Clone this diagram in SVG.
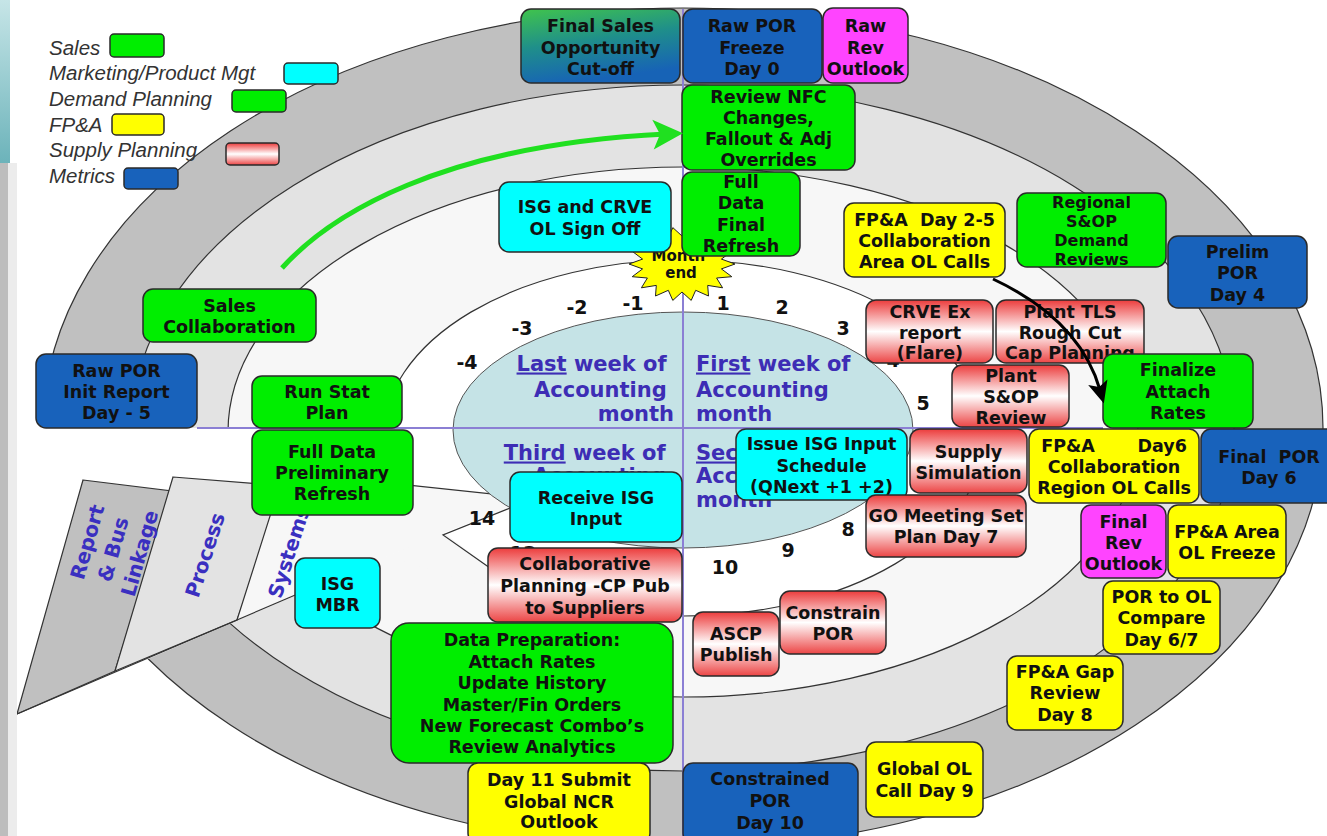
<svg xmlns="http://www.w3.org/2000/svg" width="1327" height="836" viewBox="0 0 1327 836">
<defs>
  <linearGradient id="pinkGrad" x1="0" y1="0" x2="0" y2="1">
    <stop offset="0" stop-color="#ec3c3c"/>
    <stop offset="0.5" stop-color="#ffffff"/>
    <stop offset="1" stop-color="#ec4545"/>
  </linearGradient>
  <linearGradient id="cutoffGrad" x1="0" y1="0" x2="0.3" y2="1">
    <stop offset="0" stop-color="#40c44c"/>
    <stop offset="0.5" stop-color="#1f8f8a"/>
    <stop offset="1" stop-color="#1763b6"/>
  </linearGradient>
  <linearGradient id="tealPanel" x1="0" y1="0" x2="0" y2="1">
    <stop offset="0" stop-color="#c6e5e7"/>
    <stop offset="1" stop-color="#6cb3ba"/>
  </linearGradient>
  <marker id="headGreen" markerUnits="userSpaceOnUse" markerWidth="40" markerHeight="40" viewBox="-20 -20 40 40" refX="0" refY="0" orient="auto">
    <path d="M17,0 L-13,-15 L-6,0 L-13,15 Z" fill="#20e020"/>
  </marker>
  <marker id="headBlack" markerUnits="userSpaceOnUse" markerWidth="40" markerHeight="40" viewBox="-20 -20 40 40" refX="0" refY="0" orient="auto">
    <path d="M14,0 L-8,-10 L-3,0 L-8,10 Z" fill="#000"/>
  </marker>
</defs>
<style>
  .edge{stroke:#333;stroke-width:1.2}
  .box{stroke:#2a2a2a;stroke-width:1.5}
  .sales{fill:#00ee00}
  .mkt{fill:#00ffff}
  .fpa{fill:#ffff00}
  .supply{fill:url(#pinkGrad)}
  .metric{fill:#1862bb}
  .rev{fill:#ff44ff}
  .lbl{font-family:"DejaVu Sans",Verdana,sans-serif;font-weight:bold;font-size:17.5px;fill:#111;text-anchor:middle}
  .small{font-size:16px}
  .week{font-family:"DejaVu Sans",Verdana,sans-serif;font-weight:bold;font-size:21px;fill:#3d2db5}
  .blade{font-family:"DejaVu Sans",Verdana,sans-serif;font-weight:bold;font-size:20px;fill:#3a2fc0;text-anchor:middle}
  .day{font-family:"DejaVu Sans",Verdana,sans-serif;font-weight:bold;font-size:19px;fill:#111;text-anchor:middle}
  .legend{font-family:"Liberation Sans",Arial,sans-serif;font-style:italic;font-size:20.5px;fill:#333}
  .axis{stroke:#8b7fd4;stroke-width:2;fill:none}
</style>

<!-- page background -->
<rect x="0" y="0" width="1327" height="836" fill="#ffffff"/>

<!-- concentric planning rings -->
<g id="rings">
  <ellipse cx="683" cy="428" rx="640" ry="420" fill="#c0c0c0" class="edge"/>
  <ellipse cx="683" cy="428" rx="551" ry="343" fill="#e3e3e3" class="edge"/>
  <ellipse cx="683" cy="432" rx="455" ry="265" fill="#f7f7f7" class="edge"/>
  <ellipse cx="683" cy="438" rx="300" ry="178" fill="#ffffff" class="edge"/>
  <!-- opened sector at lower left -->
  <polygon points="-5,428 456,428 462,470 443,532 -5,725" fill="#ffffff"/>
</g>

<!-- peeled ring ends: Report & Bus Linkage / Process / Systems -->
<g id="blades">
  <polygon points="83,480 172,491 115,671 17,714" fill="#c0c0c0" class="edge"/>
  <polygon points="173,477 286,486 237,620 115,671" fill="#e3e3e3" class="edge"/>
  <polygon points="284,472 512,496 510,508 443,533 237,620" fill="#f7f7f7"/>
  <polyline points="237,620 284,472 512,496" fill="none" class="edge"/>
  <line x1="17" y1="714" x2="314" y2="587" class="edge"/>
  <polygon points="416,543 443,532 490,568 494,590 400,560" fill="#f7f7f7"/>
  <polyline points="510,508 443,535 490,568" fill="none" class="edge"/>
  <text class="blade" transform="translate(114,546) rotate(-74)">
    <tspan x="0" y="-19.7">Report</tspan>
    <tspan x="0" y="7">&amp; Bus</tspan>
    <tspan x="0" y="33.7">Linkage</tspan>
  </text>
  <text class="blade" transform="translate(205,555) rotate(-72)"><tspan x="0" y="7">Process</tspan></text>
  <text class="blade" transform="translate(289,552) rotate(-72)"><tspan x="0" y="7">Systems</tspan></text>
</g>

<!-- left edge strips -->
<rect x="0" y="0" width="10" height="163" fill="url(#tealPanel)"/>
<rect x="0" y="163" width="8" height="673" fill="#bdbdbd"/>
<rect x="8" y="163" width="9" height="673" fill="#ececec"/>

<!-- accounting month core -->
<g id="core">
  <ellipse cx="683" cy="430" rx="230" ry="118" fill="#c5e3e6" stroke="#555" stroke-width="1"/>
  <line x1="683" y1="9" x2="683" y2="836" class="axis"/>
  <line x1="197" y1="428" x2="1103" y2="428" class="axis"/>
  <text class="week" text-anchor="end">
    <tspan x="674" y="370.5"><tspan text-decoration="underline">Last</tspan> week of</tspan>
    <tspan x="674" y="396.5">Accounting</tspan>
    <tspan x="674" y="420.5">month</tspan>
  </text>
  <text class="week">
    <tspan x="696" y="370.5"><tspan text-decoration="underline">First</tspan> week of</tspan>
    <tspan x="696" y="396.5">Accounting</tspan>
    <tspan x="696" y="420.5">month</tspan>
  </text>
  <text class="week" text-anchor="end">
    <tspan x="673" y="459.5"><tspan text-decoration="underline">Third</tspan> week of</tspan>
    <tspan x="673" y="482.5">Accounting</tspan>
    <tspan x="673" y="506.5">month</tspan>
  </text>
  <text class="week">
    <tspan x="696" y="459.5"><tspan text-decoration="underline">Second</tspan> week of</tspan>
    <tspan x="696" y="482.5">Accounting</tspan>
    <tspan x="696" y="506.5">month</tspan>
  </text>
</g>

<!-- working day numbers -->
<g id="days">
  <text class="day" x="467" y="369">-4</text>
  <text class="day" x="522" y="335">-3</text>
  <text class="day" x="577" y="314">-2</text>
  <text class="day" x="633" y="310">-1</text>
  <text class="day" x="723" y="310">1</text>
  <text class="day" x="782" y="314">2</text>
  <text class="day" x="843" y="335">3</text>
  <text class="day" x="893" y="367">4</text>
  <text class="day" x="923" y="410">5</text>
  <text class="day" x="848" y="536">8</text>
  <text class="day" x="788" y="557">9</text>
  <text class="day" x="725" y="574">10</text>
  <text class="day" x="523" y="560">13</text>
  <text class="day" x="482" y="525">14</text>
</g>

<!-- month end burst -->
<g id="month-end">
  <polygon fill="#ffff00" stroke="#222" stroke-width="1" points="735,264 721.4,268.9 731.8,276.7 716.6,278 722.6,287.8 707.7,285.4 708.5,296 695.7,290.3 691.2,300.4 682,292 672.8,300.4 668.3,290.3 655.5,296 656.3,285.4 641.4,287.8 647.4,278 632.2,276.7 642.6,268.9 629,264 642.6,259.1 632.2,251.3 647.4,250 641.4,240.2 656.3,242.6 655.5,232 668.3,237.7 672.8,227.6 682,236 691.2,227.6 695.7,237.7 708.5,232 707.7,242.6 722.6,240.2 716.6,250 731.8,251.3 721.4,259.1"/>
  <text class="lbl" style="font-size:15px">
    <tspan x="681" y="261">Month</tspan>
    <tspan x="681" y="278">end</tspan>
  </text>
</g>

<!-- colour key -->
<g id="legend">
  <text class="legend" x="49" y="55">Sales</text>
  <rect x="110" y="34" width="54" height="23" rx="4" class="box sales"/>
  <text class="legend" x="49" y="80">Marketing/Product Mgt</text>
  <rect x="284" y="63" width="54" height="21" rx="4" class="box mkt"/>
  <text class="legend" x="49" y="106">Demand Planning</text>
  <rect x="232" y="90" width="54" height="22" rx="4" class="box sales"/>
  <text class="legend" x="49" y="132">FP&amp;A</text>
  <rect x="112" y="114" width="52" height="21" rx="4" class="box fpa"/>
  <text class="legend" x="49" y="157">Supply Planning</text>
  <rect x="226" y="143" width="53" height="22" rx="4" class="box supply"/>
  <text class="legend" x="49" y="183">Metrics</text>
  <rect x="124" y="168" width="54" height="21" rx="4" class="box metric"/>
</g>

<!-- process steps -->
<g id="final-sales-cutoff"><rect x="521" y="9" width="159" height="74" rx="10" class="box" fill="url(#cutoffGrad)"/>
  <text class="lbl"><tspan x="600.5" y="32">Final Sales</tspan><tspan x="600.5" y="54">Opportunity</tspan><tspan x="600.5" y="75">Cut-off</tspan></text></g>
<g id="raw-por-freeze"><rect x="683" y="9" width="139" height="74" rx="10" class="box metric"/>
  <text class="lbl"><tspan x="752" y="32">Raw POR</tspan><tspan x="752" y="54">Freeze</tspan><tspan x="752" y="75">Day 0</tspan></text></g>
<g id="raw-rev-outlook"><rect x="823" y="8" width="85" height="75" rx="10" class="box rev"/>
  <text class="lbl"><tspan x="865.5" y="32">Raw</tspan><tspan x="865.5" y="54">Rev</tspan><tspan x="865.5" y="75">Outlook</tspan></text></g>
<g id="review-nfc"><rect x="682" y="85" width="173" height="85" rx="10" class="box sales"/>
  <text class="lbl"><tspan x="768.5" y="103">Review NFC</tspan><tspan x="768.5" y="124">Changes,</tspan><tspan x="768.5" y="145">Fallout &amp; Adj</tspan><tspan x="768.5" y="166">Overrides</tspan></text></g>
<g id="full-data-final"><rect x="682" y="172" width="118" height="84" rx="10" class="box sales"/>
  <text class="lbl"><tspan x="741" y="188">Full</tspan><tspan x="741" y="209">Data</tspan><tspan x="741" y="231">Final</tspan><tspan x="741" y="252">Refresh</tspan></text></g>
<g id="isg-crve-signoff"><rect x="499" y="182" width="172" height="70" rx="10" class="box mkt"/>
  <text class="lbl"><tspan x="585" y="213">ISG and CRVE</tspan><tspan x="585" y="235">OL Sign Off</tspan></text></g>
<g id="sales-collaboration"><rect x="143" y="289" width="173" height="53" rx="10" class="box sales"/>
  <text class="lbl"><tspan x="229.5" y="312">Sales</tspan><tspan x="229.5" y="333">Collaboration</tspan></text></g>
<g id="raw-por-init"><rect x="36" y="354" width="161" height="74" rx="10" class="box metric"/>
  <text class="lbl"><tspan x="116.5" y="377">Raw POR</tspan><tspan x="116.5" y="398">Init Report</tspan><tspan x="116.5" y="419">Day - 5</tspan></text></g>
<g id="run-stat-plan"><rect x="252" y="376" width="150" height="52" rx="10" class="box sales"/>
  <text class="lbl"><tspan x="327" y="398">Run Stat</tspan><tspan x="327" y="419">Plan</tspan></text></g>
<g id="full-data-prelim"><rect x="252" y="430" width="161" height="85" rx="10" class="box sales"/>
  <text class="lbl"><tspan x="332" y="458">Full Data</tspan><tspan x="332" y="479">Preliminary</tspan><tspan x="332" y="500">Refresh</tspan></text></g>
<g id="fpa-area-calls"><rect x="844" y="203" width="161" height="74" rx="10" class="box fpa"/>
  <text class="lbl"><tspan x="924.5" y="226">FP&amp;A&#160; Day 2-5</tspan><tspan x="924.5" y="247">Collaboration</tspan><tspan x="924.5" y="268">Area OL Calls</tspan></text></g>
<g id="regional-sop"><rect x="1017" y="193" width="149" height="74" rx="10" class="box sales"/>
  <text class="lbl small"><tspan x="1091.5" y="208">Regional</tspan><tspan x="1091.5" y="227">S&amp;OP</tspan><tspan x="1091.5" y="246">Demand</tspan><tspan x="1091.5" y="265">Reviews</tspan></text></g>
<g id="prelim-por"><rect x="1168" y="236" width="139" height="72" rx="10" class="box metric"/>
  <text class="lbl"><tspan x="1237.5" y="258">Prelim</tspan><tspan x="1237.5" y="279">POR</tspan><tspan x="1237.5" y="301">Day 4</tspan></text></g>
<g id="crve-ex-report"><rect x="866" y="300" width="127" height="63" rx="10" class="box supply"/>
  <text class="lbl"><tspan x="930" y="318">CRVE Ex</tspan><tspan x="930" y="339">report</tspan><tspan x="930" y="359">(Flare)</tspan></text></g>
<g id="plant-tls"><rect x="996" y="300" width="148" height="63" rx="10" class="box supply"/>
  <text class="lbl"><tspan x="1070" y="318">Plant TLS</tspan><tspan x="1070" y="339">Rough Cut</tspan><tspan x="1070" y="359">Cap Planning</tspan></text></g>
<g id="plant-sop"><rect x="952" y="365" width="117" height="62" rx="10" class="box supply"/>
  <text class="lbl"><tspan x="1011" y="382">Plant</tspan><tspan x="1011" y="403">S&amp;OP</tspan><tspan x="1011" y="424">Review</tspan></text></g>
<g id="finalize-attach"><rect x="1103" y="354" width="150" height="74" rx="10" class="box sales"/>
  <text class="lbl"><tspan x="1178" y="376">Finalize</tspan><tspan x="1178" y="398">Attach</tspan><tspan x="1178" y="419">Rates</tspan></text></g>
<g id="issue-isg-schedule"><rect x="736" y="429" width="171" height="71" rx="10" class="box mkt"/>
  <text class="lbl"><tspan x="821.5" y="450">Issue ISG Input</tspan><tspan x="821.5" y="472">Schedule</tspan><tspan x="821.5" y="493">(QNext +1 +2)</tspan></text></g>
<g id="supply-simulation"><rect x="910" y="429" width="117" height="64" rx="10" class="box supply"/>
  <text class="lbl"><tspan x="968.5" y="458">Supply</tspan><tspan x="968.5" y="479">Simulation</tspan></text></g>
<g id="fpa-region-calls"><rect x="1029" y="429" width="170" height="74" rx="10" class="box fpa"/>
  <text class="lbl"><tspan x="1114" y="452">FP&amp;A&#160;&#160;&#160;&#160;&#160;&#160; Day6</tspan><tspan x="1114" y="473">Collaboration</tspan><tspan x="1114" y="494">Region OL Calls</tspan></text></g>
<g id="final-por"><rect x="1201" y="429" width="140" height="74" rx="10" class="box metric"/>
  <text class="lbl"><tspan x="1269" y="463">Final&#160; POR</tspan><tspan x="1269" y="484">Day 6</tspan></text></g>
<g id="receive-isg"><rect x="510" y="472" width="172" height="70" rx="10" class="box mkt"/>
  <text class="lbl"><tspan x="596" y="504">Receive ISG</tspan><tspan x="596" y="525">Input</tspan></text></g>
<g id="go-meeting"><rect x="866" y="495" width="160" height="62" rx="10" class="box supply"/>
  <text class="lbl"><tspan x="946" y="522">GO Meeting Set</tspan><tspan x="946" y="543">Plan Day 7</tspan></text></g>
<g id="final-rev-outlook"><rect x="1081" y="505" width="85" height="73" rx="10" class="box rev"/>
  <text class="lbl"><tspan x="1123.5" y="528">Final</tspan><tspan x="1123.5" y="549">Rev</tspan><tspan x="1123.5" y="570">Outlook</tspan></text></g>
<g id="fpa-area-freeze"><rect x="1168" y="505" width="118" height="73" rx="10" class="box fpa"/>
  <text class="lbl"><tspan x="1227" y="538">FP&amp;A Area</tspan><tspan x="1227" y="559">OL Freeze</tspan></text></g>
<g id="collaborative-planning"><rect x="488" y="548" width="194" height="74" rx="10" class="box supply"/>
  <text class="lbl"><tspan x="585" y="570">Collaborative</tspan><tspan x="585" y="592">Planning -CP Pub</tspan><tspan x="585" y="614">to Suppliers</tspan></text></g>
<g id="isg-mbr"><rect x="295" y="558" width="85" height="70" rx="10" class="box mkt"/>
  <text class="lbl"><tspan x="337.5" y="590">ISG</tspan><tspan x="337.5" y="611">MBR</tspan></text></g>
<g id="por-ol-compare"><rect x="1103" y="581" width="117" height="73" rx="10" class="box fpa"/>
  <text class="lbl"><tspan x="1161.5" y="603">POR to OL</tspan><tspan x="1161.5" y="624">Compare</tspan><tspan x="1161.5" y="646">Day 6/7</tspan></text></g>
<g id="constrain-por"><rect x="780" y="591" width="106" height="63" rx="10" class="box supply"/>
  <text class="lbl"><tspan x="833" y="619">Constrain</tspan><tspan x="833" y="640">POR</tspan></text></g>
<g id="ascp-publish"><rect x="693" y="612" width="86" height="64" rx="10" class="box supply"/>
  <text class="lbl"><tspan x="736" y="640">ASCP</tspan><tspan x="736" y="661">Publish</tspan></text></g>
<g id="data-preparation"><rect x="391" y="623" width="282" height="140" rx="18" class="box sales"/>
  <text class="lbl"><tspan x="532" y="646">Data Preparation:</tspan><tspan x="532" y="668">Attach Rates</tspan><tspan x="532" y="689">Update History</tspan><tspan x="532" y="711">Master/Fin Orders</tspan><tspan x="532" y="732">New Forecast Combo’s</tspan><tspan x="532" y="753">Review Analytics</tspan></text></g>
<g id="fpa-gap-review"><rect x="1007" y="656" width="116" height="74" rx="10" class="box fpa"/>
  <text class="lbl"><tspan x="1065" y="678">FP&amp;A Gap</tspan><tspan x="1065" y="699">Review</tspan><tspan x="1065" y="721">Day 8</tspan></text></g>
<g id="global-ol-call"><rect x="866" y="742" width="117" height="75" rx="10" class="box fpa"/>
  <text class="lbl"><tspan x="924.5" y="775">Global OL</tspan><tspan x="924.5" y="797">Call Day 9</tspan></text></g>
<g id="day11-submit"><rect x="468" y="763" width="182" height="80" rx="10" class="box fpa"/>
  <text class="lbl"><tspan x="559" y="786">Day 11 Submit</tspan><tspan x="559" y="808">Global NCR</tspan><tspan x="559" y="828">Outlook</tspan></text></g>
<g id="constrained-por"><rect x="683" y="763" width="175" height="80" rx="10" class="box metric"/>
  <text class="lbl"><tspan x="770" y="785">Constrained</tspan><tspan x="770" y="807">POR</tspan><tspan x="770" y="829">Day 10</tspan></text></g>

<!-- flow arrows -->
<g id="connectors" fill="none">
  <path d="M282,268 C330,215 440,145 666,134" stroke="#20e020" stroke-width="5" marker-end="url(#headGreen)"/>
  <path d="M993,279 Q1080,320 1100,390" stroke="#000" stroke-width="3" marker-end="url(#headBlack)"/>
</g>
</svg>
